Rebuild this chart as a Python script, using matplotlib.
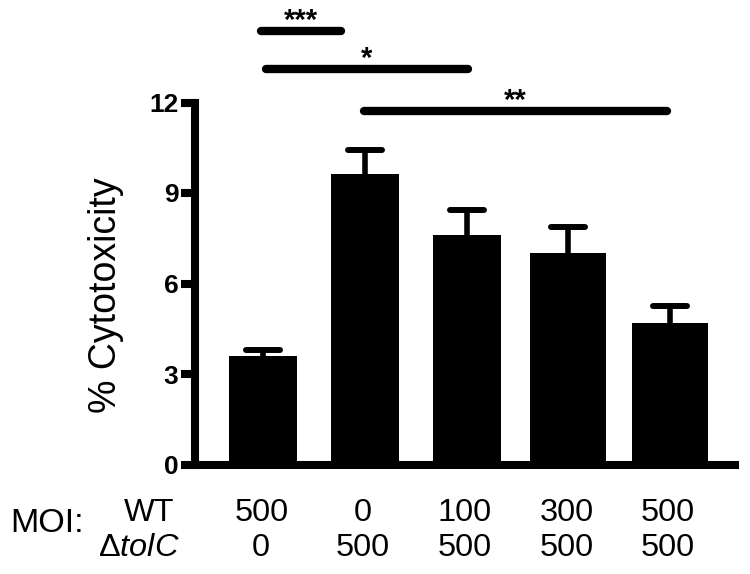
import matplotlib
matplotlib.use('Agg')
import matplotlib.pyplot as plt

# data
wt_moi = ['500', '0', '100', '300', '500']
tolc_moi = ['0', '500', '500', '500', '500']
means = [3.60, 9.62, 7.61, 7.00, 4.70]
errors = [0.20, 0.79, 0.83, 0.86, 0.56]

# significance brackets: (x start, x end, level, stars)
brackets = [(-0.02, 0.76, 14.36, '***'),
            (0.03, 2.01, 13.11, '*'),
            (0.99, 3.97, 11.73, '**')]

plt.rcParams['font.family'] = ['Liberation Sans', 'DejaVu Sans']
plt.rcParams['mathtext.fontset'] = 'custom'
plt.rcParams['mathtext.it'] = 'Liberation Sans:italic'
plt.rcParams['mathtext.rm'] = 'Liberation Sans'

fig = plt.figure(figsize=(7.5, 5.74), dpi=100)
ax = fig.add_axes([195 / 750, 109.5 / 574, 540 / 750, 362 / 574])

x = list(range(len(means)))
bar_widths = [0.668, 0.668, 0.668, 0.747, 0.747]
ax.bar(x, means, width=bar_widths, color='black', zorder=2)

# upper error bars only, rounded caps
ax.vlines(x, means, [m + e for m, e in zip(means, errors)],
          color='black', linewidth=4.0, zorder=1)
caps = ax.hlines([m + e for m, e in zip(means, errors)],
                 [i - 0.167 for i in x], [i + 0.167 for i in x],
                 color='black', linewidth=4.3, zorder=3)
caps.set_capstyle('round')

# significance bars above the axes
for x0, x1, lev, stars in brackets:
    ax.plot([x0, x1], [lev, lev], color='black', linewidth=6,
            solid_capstyle='round', clip_on=False)
    ax.text((x0 + x1) / 2, lev + 0.07, stars, ha='center', va='baseline',
            fontsize=21, fontweight='bold', clip_on=False)

ax.set_xlim(-0.671, 4.638)
ax.set_ylim(0, 12)
ax.set_yticks([0, 3, 6, 9, 12])
ax.set_yticklabels(['0', '3', '6', '9', '12'], fontsize=19, fontweight='bold')
ax.set_xticks([])

for side in ['top', 'right']:
    ax.spines[side].set_visible(False)
for side in ['left', 'bottom']:
    ax.spines[side].set_linewidth(5.8)
ax.tick_params(axis='y', length=10, width=5.8, pad=2)

ax.text(-0.165, 0.468, '% Cytotoxicity', transform=ax.transAxes,
        rotation=90, ha='center', va='center', fontsize=27)

# MOI table under the bars
tr = ax.get_xaxis_transform()
for i in x:
    ax.text(i - 0.02, -0.134, wt_moi[i], transform=tr, ha='center',
            va='center', fontsize=23.4)
    ax.text(i - 0.02, -0.231, tolc_moi[i], transform=tr, ha='center',
            va='center', fontsize=23.4)
ax.text(-0.878, -0.134, 'WT', transform=tr, ha='right', va='center',
        fontsize=23.4)
ax.text(-0.819, -0.231, r'Δ$\mathit{tolC}$', transform=tr, ha='right',
        va='center', fontsize=23.4)
ax.text(-2.49, -0.164, 'MOI:', transform=tr, ha='left', va='center',
        fontsize=24.5)

fig.savefig('out.png', dpi=100)
